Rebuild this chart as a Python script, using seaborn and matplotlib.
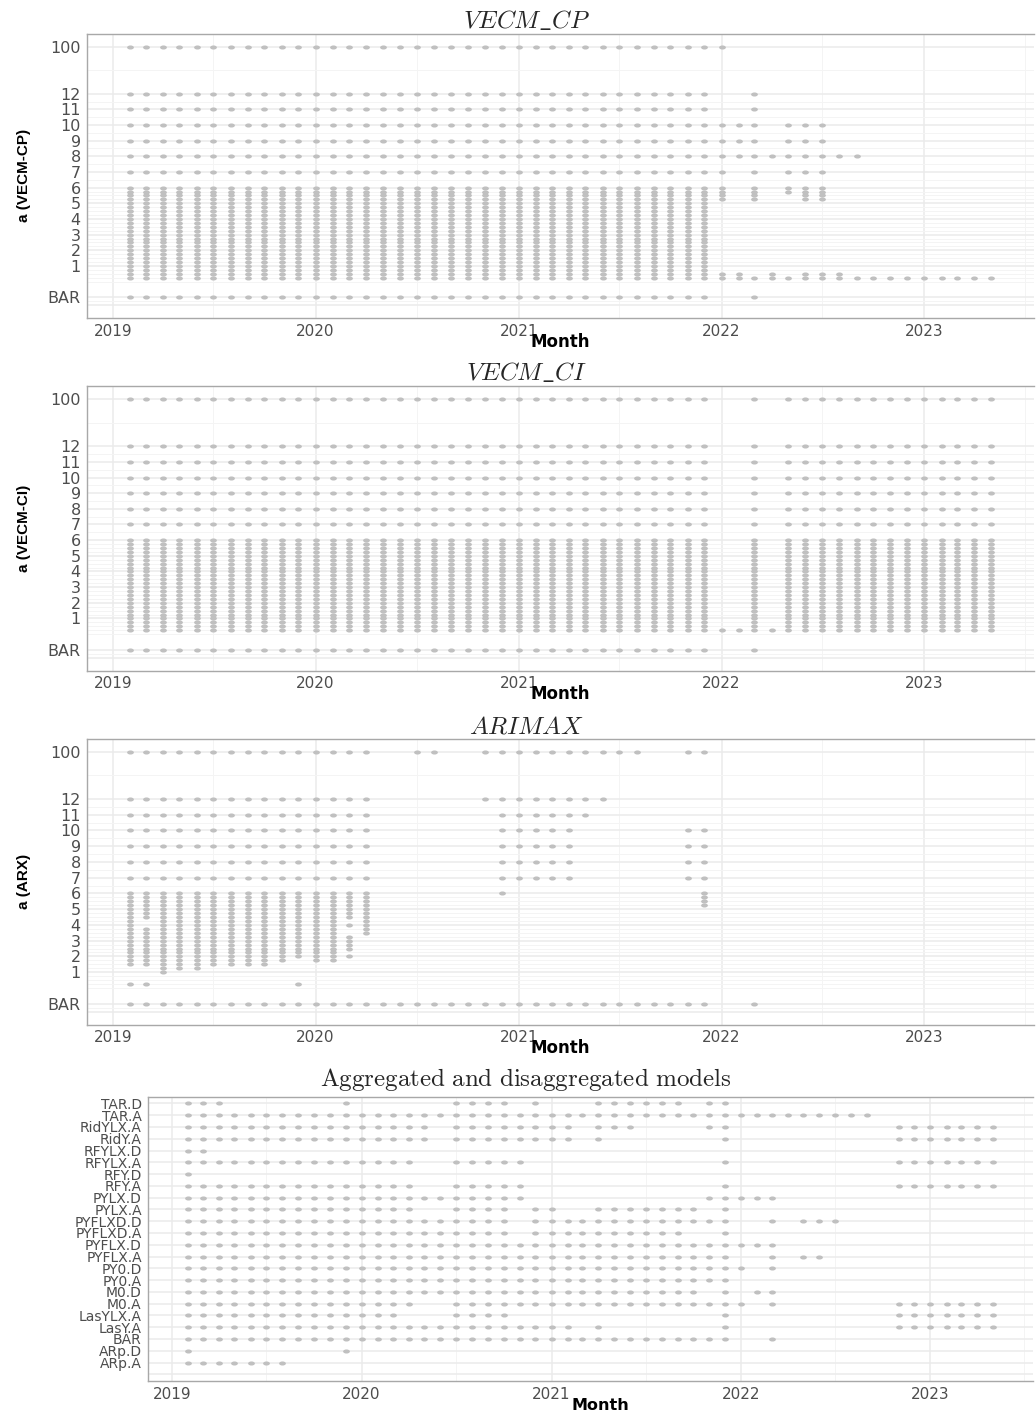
import numpy as np
import pandas as pd
import matplotlib
matplotlib.use("Agg")
import matplotlib.pyplot as plt
import matplotlib.dates as mdates
from matplotlib.path import Path
from matplotlib.transforms import Affine2D
import seaborn as sns

sns.set_theme(style="white")
plt.rcParams["font.family"] = ["DejaVu Sans"]
plt.rcParams["mathtext.fontset"] = "cm"

# ---------------------------------------------------------------------------
# Data: months in which each candidate was selected
# ---------------------------------------------------------------------------
FIRST_MONTH = "2019-02"
LAST_MONTH = "2023-05"
YEARS = [2019, 2020, 2021, 2022, 2023]

# fine grid of the tuning value a
A_FINE = [0.25, 0.5, 0.75, 1.0, 1.25, 1.5, 1.75, 2.0, 2.25, 2.5, 2.75, 3.0,
          3.25, 3.5, 3.75, 4.0, 4.25, 4.5, 4.75, 5.0, 5.25, 5.5, 5.75, 6.0]

# VECM (CP): selected months for coarse values of a and for the benchmark
CP_ROWS = {
    100: [("2019-02", "2022-01")],
    12: [("2019-02", "2021-12"), ("2022-03", "2022-03")],
    11: [("2019-02", "2021-12"), ("2022-03", "2022-03")],
    10: [("2019-02", "2022-03"), ("2022-05", "2022-07")],
    9: [("2019-02", "2022-03"), ("2022-05", "2022-07")],
    8: [("2019-02", "2022-09")],
    7: [("2019-02", "2022-01"), ("2022-03", "2022-03"), ("2022-05", "2022-07")],
    "BAR": [("2019-02", "2021-12"), ("2022-03", "2022-03")],
}
# (first month, last month, lowest a, highest a) on the fine grid
CP_FINE = [
    ("2019-02", "2021-12", 0.25, 6.0),
    ("2022-01", "2022-01", 5.25, 6.0),
    ("2022-03", "2022-03", 5.25, 6.0),
    ("2022-05", "2022-05", 5.75, 6.0),
    ("2022-06", "2022-07", 5.25, 6.0),
    ("2022-01", "2022-02", 0.25, 0.5),
    ("2022-03", "2022-03", 0.25, 0.25),
    ("2022-04", "2022-04", 0.25, 0.5),
    ("2022-05", "2022-05", 0.25, 0.25),
    ("2022-06", "2022-08", 0.25, 0.5),
    ("2022-09", "2023-05", 0.25, 0.25),
]

# VECM (CI)
CI_ROWS = {
    100: [("2019-02", "2021-12"), ("2022-03", "2022-03"), ("2022-05", "2023-05")],
    12: [("2019-02", "2021-12"), ("2022-03", "2022-03"), ("2022-05", "2023-05")],
    11: [("2019-02", "2021-12"), ("2022-03", "2022-03"), ("2022-05", "2023-05")],
    10: [("2019-02", "2021-12"), ("2022-03", "2022-03"), ("2022-05", "2023-05")],
    9: [("2019-02", "2021-12"), ("2022-03", "2022-03"), ("2022-05", "2023-05")],
    8: [("2019-02", "2021-12"), ("2022-03", "2022-03"), ("2022-05", "2023-05")],
    7: [("2019-02", "2021-12"), ("2022-03", "2022-03"), ("2022-05", "2023-05")],
    "BAR": [("2019-02", "2021-12"), ("2022-03", "2022-03")],
}
CI_FINE = [
    ("2019-02", "2021-12", 0.25, 6.0),
    ("2022-03", "2022-03", 0.25, 6.0),
    ("2022-05", "2023-05", 0.25, 6.0),
    ("2022-01", "2022-02", 0.25, 0.25),
    ("2022-04", "2022-04", 0.25, 0.25),
]

# ARIMAX
ARX_ROWS = {
    100: [("2019-02", "2020-04"), ("2020-07", "2020-08"), ("2020-11", "2021-08"),
          ("2021-11", "2021-12")],
    12: [("2019-02", "2020-04"), ("2020-11", "2021-06")],
    11: [("2019-02", "2020-04"), ("2020-12", "2021-05")],
    10: [("2019-02", "2020-04"), ("2020-12", "2021-04"), ("2021-11", "2021-12")],
    9: [("2019-02", "2020-04"), ("2020-12", "2021-04"), ("2021-11", "2021-12")],
    8: [("2019-02", "2020-04"), ("2020-12", "2021-04"), ("2021-11", "2021-12")],
    7: [("2019-02", "2020-04"), ("2020-12", "2021-04"), ("2021-11", "2021-12")],
    "BAR": [("2019-02", "2021-12"), ("2022-03", "2022-03")],
}
ARX_FINE = [
    ("2019-02", "2019-02", 1.5, 6.0),
    ("2019-03", "2019-03", 4.5, 6.0),
    ("2019-03", "2019-03", 1.5, 3.75),
    ("2019-02", "2019-03", 0.25, 0.25),
    ("2019-04", "2019-04", 1.0, 6.0),
    ("2019-05", "2019-06", 1.25, 6.0),
    ("2019-07", "2019-10", 1.5, 6.0),
    ("2019-11", "2019-11", 1.75, 6.0),
    ("2019-12", "2019-12", 2.0, 6.0),
    ("2019-12", "2019-12", 0.25, 0.25),
    ("2020-01", "2020-02", 1.75, 6.0),
    ("2020-03", "2020-03", 4.5, 6.0),
    ("2020-03", "2020-03", 4.0, 4.0),
    ("2020-03", "2020-03", 2.5, 3.25),
    ("2020-03", "2020-03", 2.0, 2.0),
    ("2020-04", "2020-04", 3.5, 6.0),
    ("2020-12", "2020-12", 6.0, 6.0),
    ("2021-12", "2021-12", 5.25, 6.0),
]

# Aggregated and disaggregated models (top to bottom)
AGG_MODELS = ["TAR.D", "TAR.A", "RidYLX.A", "RidY.A", "RFYLX.D", "RFYLX.A",
              "RFY.D", "RFY.A", "PYLX.D", "PYLX.A", "PYFLXD.D", "PYFLXD.A",
              "PYFLX.D", "PYFLX.A", "PY0.D", "PY0.A", "M0.D", "M0.A",
              "LasYLX.A", "LasY.A", "BAR", "ARp.D", "ARp.A", ""]
AGG_ROWS = {
    "TAR.D": [("2019-02", "2019-04"), ("2019-12", "2019-12"), ("2020-07", "2020-10"),
              ("2020-12", "2020-12"), ("2021-04", "2021-09"), ("2021-11", "2021-12")],
    "TAR.A": [("2019-02", "2022-09")],
    "RidYLX.A": [("2019-02", "2020-05"), ("2020-07", "2021-02"), ("2021-04", "2021-06"),
                 ("2021-11", "2021-12"), ("2022-11", "2023-05")],
    "RidY.A": [("2019-02", "2020-05"), ("2020-07", "2021-02"), ("2021-04", "2021-04"),
               ("2021-12", "2021-12"), ("2022-11", "2023-05")],
    "RFYLX.D": [("2019-02", "2019-03")],
    "RFYLX.A": [("2019-02", "2020-04"), ("2020-07", "2020-11"), ("2021-12", "2021-12"),
                ("2022-11", "2023-05")],
    "RFY.D": [("2019-02", "2019-02")],
    "RFY.A": [("2019-02", "2020-04"), ("2020-07", "2020-11"), ("2021-12", "2021-12"),
              ("2022-11", "2023-05")],
    "PYLX.D": [("2019-02", "2020-11"), ("2021-11", "2022-03")],
    "PYLX.A": [("2019-02", "2020-04"), ("2020-07", "2020-10"), ("2020-12", "2021-01"),
               ("2021-04", "2021-10"), ("2021-12", "2021-12")],
    "PYFLXD.D": [("2019-02", "2020-10"), ("2020-12", "2021-12"), ("2022-03", "2022-03"),
                 ("2022-05", "2022-07")],
    "PYFLXD.A": [("2019-02", "2020-10"), ("2020-12", "2021-09"), ("2021-12", "2021-12")],
    "PYFLX.D": [("2019-02", "2022-03")],
    "PYFLX.A": [("2019-02", "2021-12"), ("2022-03", "2022-03"), ("2022-05", "2022-06")],
    "PY0.D": [("2019-02", "2022-01"), ("2022-03", "2022-03")],
    "PY0.A": [("2019-02", "2021-12")],
    "M0.D": [("2019-02", "2021-10"), ("2021-12", "2021-12"), ("2022-02", "2022-03")],
    "M0.A": [("2019-02", "2020-04"), ("2020-07", "2022-01"), ("2022-03", "2022-03"),
             ("2022-11", "2023-05")],
    "LasYLX.A": [("2019-02", "2020-03"), ("2020-07", "2020-10"), ("2021-12", "2021-12"),
                 ("2022-11", "2023-05")],
    "LasY.A": [("2019-02", "2021-02"), ("2021-04", "2021-04"), ("2021-12", "2021-12"),
               ("2022-11", "2023-05")],
    "BAR": [("2019-02", "2021-12"), ("2022-03", "2022-03")],
    "ARp.D": [("2019-02", "2019-02"), ("2019-12", "2019-12")],
    "ARp.A": [("2019-02", "2019-08")],
}

# axis positions of the special levels of a
A_POS = {"BAR": -1.0, 100: 15.0}
A_TICKS = [-1.5, -1.0, 1, 2, 3, 4, 5, 6, 7, 8, 9, 10, 11, 12, 15]
A_TICKLABELS = ["", "BAR", "1", "2", "3", "4", "5", "6", "7", "8", "9", "10",
                "11", "12", "100"]

# ---------------------------------------------------------------------------
# Helpers
# ---------------------------------------------------------------------------
DOT = "#c0c0c0"
GRID = "#ebebeb"
GRID_MINOR = "#f4f4f4"
BORDER = "#a8a8a8"
TICKTXT = "#4d4d4d"
ELLIPSE = Affine2D().scale(1.0, 0.6).transform_path(Path.unit_circle())

W, H = 1036, 1414


def span(a, b):
    return pd.date_range(a + "-01", b + "-01", freq="MS")


def a_frame(rows, fine):
    recs = []
    for level, spans in rows.items():
        for a, b in spans:
            for m in span(a, b):
                recs.append((m, A_POS.get(level, level)))
    for a, b, lo, hi in fine:
        for m in span(a, b):
            for v in A_FINE:
                if lo <= v <= hi:
                    recs.append((m, v))
    return pd.DataFrame(recs, columns=["month", "pos"])


def agg_frame():
    n = len(AGG_MODELS)
    recs = []
    for model, spans in AGG_ROWS.items():
        for a, b in spans:
            for m in span(a, b):
                recs.append((m, n - 1 - AGG_MODELS.index(model)))
    return pd.DataFrame(recs, columns=["month", "pos"])


def px_axes(fig, left, top, right, bottom):
    return fig.add_axes([left / W, 1 - bottom / H, (right - left) / W, (bottom - top) / H])


t0 = pd.Timestamp(FIRST_MONTH + "-01")
t1 = pd.Timestamp(LAST_MONTH + "-01")
pad = (t1 - t0) * 0.05
XLIM = (mdates.date2num(t0 - pad), mdates.date2num(t1 + pad))
XMAJOR = [mdates.date2num(pd.Timestamp(f"{y}-01-01")) for y in YEARS]
XMINOR = [mdates.date2num(pd.Timestamp(f"{y}-07-01")) for y in YEARS]


def style_axes(ax, label_size, xlab_xy, xlab_size):
    ax.set_xlim(*XLIM)
    ax.set_xticks(XMAJOR)
    ax.set_xticklabels([str(y) for y in YEARS])
    ax.set_xticks(XMINOR, minor=True)
    ax.grid(which="major", color=GRID, lw=1.1, zorder=0)
    ax.grid(which="minor", color=GRID_MINOR, lw=0.7, zorder=0)
    ax.set_axisbelow(True)
    for side in ["top", "left", "bottom"]:
        ax.spines[side].set_color(BORDER)
        ax.spines[side].set_linewidth(1.0)
    ax.spines["right"].set_visible(False)
    ax.tick_params(axis="both", which="major", length=3, width=0.8, color=BORDER,
                   labelcolor=TICKTXT, pad=1.5)
    ax.tick_params(axis="y", labelsize=label_size)
    ax.tick_params(axis="x", labelsize=11, pad=1.0)
    ax.tick_params(which="minor", length=0)
    ax.set_xlabel("Month", fontsize=xlab_size, fontweight="bold", color="black",
                  va="center")
    ax.xaxis.set_label_coords(*xlab_xy)


def draw(ax, df):
    sns.scatterplot(data=df, x="month", y="pos", ax=ax, marker=ELLIPSE, s=24,
                    color=DOT, linewidth=0, legend=False, zorder=3)


fig = plt.figure(figsize=(W / 100, H / 100), dpi=100)
fig.patch.set_facecolor("white")

panels = [
    (r"$VECM\_CP$", "a (VECM-CP)", CP_ROWS, CP_FINE, 33.8, 318.0, 28.0),
    (r"$VECM\_CI$", "a (VECM-CI)", CI_ROWS, CI_FINE, 386.3, 670.5, 380.5),
    (r"$ARIMAX$", "a (ARX)", ARX_ROWS, ARX_FINE, 738.7, 1024.5, 733.0),
]
minor_a = sorted(set(A_FINE) | {-1.25, 0.0, 6.5, 7.5, 8.5, 9.5, 10.5, 11.5, 13.5})
for title, ylab, rows, fine, top, bottom, base in panels:
    ax = px_axes(fig, 87, top, 1034, bottom)
    draw(ax, a_frame(rows, fine))
    style_axes(ax, 11.5, (0.5, -0.083), 12)
    ax.set_ylim(-2.325, 15.825)
    ax.set_yticks(A_TICKS)
    ax.set_yticklabels(A_TICKLABELS)
    ax.set_yticks([v for v in minor_a if v not in A_TICKS], minor=True)
    ax.set_ylabel(ylab, fontsize=11, fontweight="bold", color="black", va="center",
                  family=["Liberation Sans", "DejaVu Sans"])
    ax.yaxis.set_label_coords(-0.066, 0.5)
    fig.text(526 / W, 1 - base / H, title, ha="center", va="baseline", fontsize=18)

ax = px_axes(fig, 148, 1096.7, 1033, 1381.0)
draw(ax, agg_frame())
style_axes(ax, 10, ((600 - 148) / 885, -(1405.5 - 1381) / 284.3), 11.5)
n = len(AGG_MODELS)
ax.set_ylim(-0.57, n - 1 + 0.57)
ax.set_yticks(list(range(n)))
ax.set_yticklabels(AGG_MODELS[::-1])
ax.set_ylabel("")
fig.text(526 / W, 1 - 1086 / H, r"$\mathrm{Aggregated\ and\ disaggregated\ models}$",
         ha="center", va="baseline", fontsize=18)

fig.savefig("out.png", dpi=100, facecolor="white")
